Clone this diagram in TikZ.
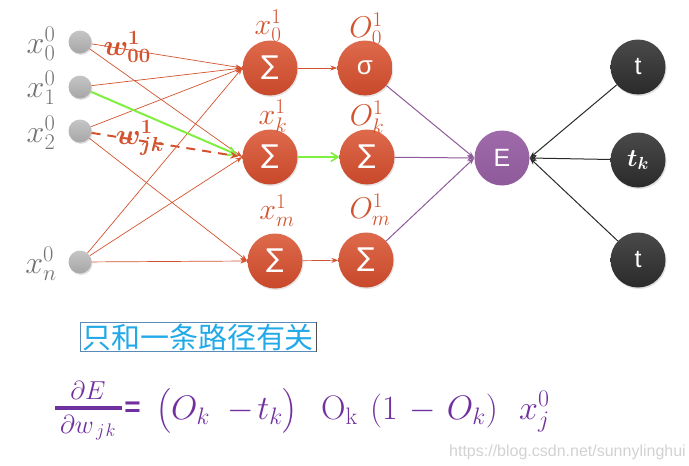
\RequirePackage{fix-cm}
\documentclass[tikz,border=0pt]{standalone}
\usepackage{amsmath,bm}
\usepackage{fontspec}
\newfontfamily\cjk{Noto Sans CJK SC}
\newfontfamily\dvs{DejaVu Sans}
\setsansfont{Liberation Sans}
\usetikzlibrary{arrows.meta,shadows}
\definecolor{nredtop}{HTML}{DE6A4C}
\definecolor{nredbot}{HTML}{C8482A}
\definecolor{lred}{HTML}{D4532F}
\definecolor{epurp}{HTML}{8E5A9A}
\definecolor{eptop}{HTML}{9E6AAA}
\definecolor{tdark}{HTML}{2A2A2A}
\definecolor{gline}{HTML}{80F040}
\definecolor{fpurp}{HTML}{7030A0}
\definecolor{cntext}{HTML}{22AAE8}
\definecolor{cnbox}{HTML}{5A8AB8}
\definecolor{glab}{HTML}{737373}
\begin{document}
\begin{tikzpicture}[x=1pt,y=-1pt,
  inp/.style={circle,minimum size=23pt,inner sep=0pt,top color=gray!45,bottom color=gray!70,draw=none,
    drop shadow={opacity=0.25,shadow xshift=1pt,shadow yshift=-1.5pt}},
  neuron/.style={circle,minimum size=55pt,inner sep=0pt,top color=nredtop,bottom color=nredbot,text=white,
    font=\dvs\fontsize{26}{26}\selectfont,drop shadow={opacity=0.2,shadow xshift=1pt,shadow yshift=-1.5pt}},
  enode/.style={circle,minimum size=55pt,inner sep=0pt,top color=eptop,bottom color=epurp,text=white,
    font=\sffamily\fontsize{25}{25}\selectfont},
  tnode/.style={circle,minimum size=55pt,inner sep=0pt,top color=tdark!85,bottom color=tdark,text=white,
    font=\sffamily\fontsize{25}{25}\selectfont,drop shadow={opacity=0.25,shadow xshift=1pt,shadow yshift=-1.5pt}},
  inlab/.style={text=glab,font=\fontsize{32}{34}\selectfont,inner sep=0pt},
  hlab/.style={text=lred,font=\fontsize{30}{32}\selectfont,inner sep=0pt},
  wlab/.style={text=lred,font=\fontsize{29}{31}\selectfont,inner sep=0pt},
  wire/.style={draw=lred,line width=0.7pt,-{Stealth[length=7pt,width=5pt]}},
  greenw/.style={draw=gline,line width=2pt,-{Straight Barb[length=7pt,width=9pt]}},
  dashw/.style={draw=lred,line width=2pt,dash pattern=on 9pt off 7pt,-{Stealth[length=8pt,width=7pt]}},
  pwire/.style={draw=epurp,line width=1pt,-{Stealth[length=7pt,width=5pt]}},
  twire/.style={draw=tdark,line width=1pt,-{Stealth[length=7pt,width=5pt]}},
  fml/.style={text=fpurp,inner sep=0pt,font=\fontsize{34}{31}\selectfont}
]
\useasboundingbox (0,0) rectangle (689,466);
\fill[white] (0,0) rectangle (689,466);

% input nodes
\node[inp] (i0) at (80,42) {};
\node[inp] (i1) at (80,87) {};
\node[inp] (i2) at (80,131) {};
\node[inp] (in) at (80,262) {};
\node[inlab] (l0) at (41,44) {$x_0^0$};
\node[inlab] (l1) at (41,88) {$x_1^0$};
\node[inlab] (l2) at (41,133) {$x_2^0$};
\node[inlab] (ln) at (41,264) {$x_n^0$};

% hidden sums
\node[neuron] (h0) at (270,68) {∑};
\node[neuron] (hk) at (270,157) {∑};
\node[neuron] (hm) at (275,261) {∑};
% outputs
\node[neuron,font=\sffamily\fontsize{26}{26}\selectfont] (o0) at (365,68) {σ};
\node[neuron] (ok) at (367,157) {∑};
\node[neuron] (om) at (366,260) {∑};

\node[hlab] (xl0) at (268,26) {$x_0^1$};
\node[hlab] (ol0) at (366,29) {$O_0^1$};
\node[hlab] (xlk) at (273,116) {$x_k^1$};
\node[hlab] (olk) at (367,117) {$O_k^1$};
\node[hlab] (xlm) at (277,211) {$x_m^1$};
\node[hlab] (olm) at (370,210) {$O_m^1$};

% E and targets
\node[enode] (E) at (502,158) {E};
\node[tnode] (t0) at (638,67) {t};
\node[tnode] (tk) at (638,160) {$\bm{t_k}$};
\node[tnode] (tb) at (638,260) {t};

% input wires
\draw[wire] (i0) -- (h0.west);
\draw[wire] (i0) -- (hk.west);
\draw[wire] (i1) -- (h0.west);
\draw[wire] (i2) -- (h0.west);
\draw[wire] (i2) -- (hm.west);
\draw[wire] (in) -- (h0.west);
\draw[wire] (in) -- (hk.west);
\draw[wire] (in) -- (hm.west);
\draw[greenw,shorten >=6pt] (i1) -- (hk.west);
\draw[dashw,shorten >=4pt] (i2) -- (hk.west);

% hidden to output
\draw[wire] (h0) -- (o0);
\draw[greenw,line width=1.6pt] (hk) -- (ok);
\draw[wire] (hm) -- (om);

% outputs to E
\draw[pwire] (o0) -- (E.west);
\draw[pwire] (ok) -- (E.west);
\draw[pwire] (om) -- (E.west);
\draw[twire] (t0) -- (E.east);
\draw[twire] (tk) -- (E.east);
\draw[twire] (tb) -- (E.east);

% weight labels
\node[wlab] (w00) at (127,47) {$\bm{w_{00}^{1}}$};
\node[wlab] (wjk) at (140,138) {$\bm{w_{jk}^{1}}$};

% Chinese note
\node[draw=cnbox,line width=0.6pt,inner xsep=2pt,inner ysep=1pt,text=cntext,font=\cjk\fontsize{29}{31}\selectfont] (cn) at (198,337) {只和一条路径有关};
\draw[line width=1pt,black!70] (cn.north east) -- (cn.south east);

% formula
\node[fml,font=\fontsize{26}{28}\selectfont] (num) at (88,390) {$\partial E$};
\node[fml,font=\fontsize{26}{28}\selectfont,anchor=base] (den) at (88,433) {$\partial w_{\mkern3mu j\mkern1mu k}$};
\draw[fpurp,line width=3.5pt] (55,408) -- (122,408);
\node[fml,font=\sffamily\bfseries\fontsize{28}{30}\selectfont] (eq) at (132.5,409) {=};
\node[fml,anchor=base west] (g1) at (156,419) {$\bigl(O_k\hspace{18pt}{-}\hspace{3pt}t_k\bigr)$};
\node[fml,anchor=base west] (g2) at (321,419) {$\mathrm{O}_{\mathrm{k}}$};
\node[fml,anchor=base west] (g3) at (370,419) {$(1\mkern6mu{-}\mkern6mu O_k)$};
\node[fml,anchor=base west] (g4) at (519,419) {$x_j^0$};

% watermark
\node[text=gray!35,font=\sffamily\fontsize{16}{18}\selectfont,anchor=east,inner sep=0pt] (wm) at (686,452) {https://blog.csdn.net/sunnylinghui};
\end{tikzpicture}
\end{document}
